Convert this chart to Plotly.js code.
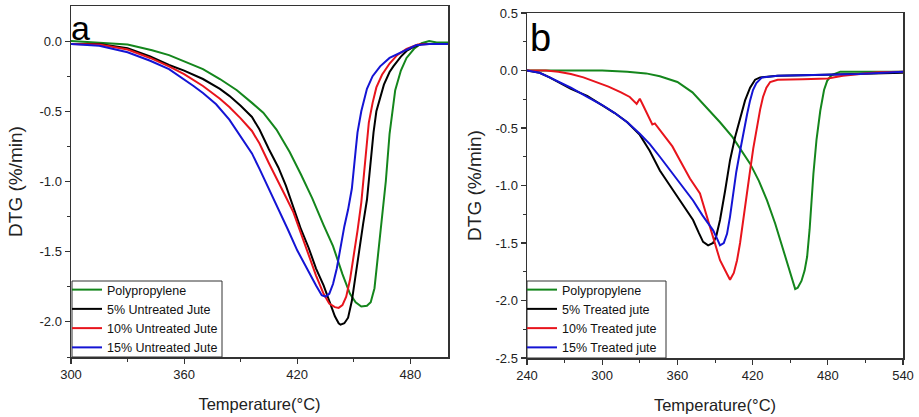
<!DOCTYPE html>
<html>
<head>
<meta charset="utf-8">
<script src="https://cdn.plot.ly/plotly-3.0.1.min.js"></script>
<style>html,body{margin:0;padding:0;background:#fff;}#chart{width:919px;height:417px;}</style>
</head>
<body>
<div id="chart"></div>
<script>
// ---------- Panel a (untreated jute) ----------
const aPP_x = [300,315,330,343,352,361,370,379,388,396,402,409,416,422,428,434,439,444,448,451,454,457,459,461,463,465,467,469,472,475,478,482,486,490,494,500];
const aPP_y = [0,-0.01,-0.025,-0.065,-0.1,-0.15,-0.2,-0.27,-0.35,-0.44,-0.51,-0.63,-0.79,-0.95,-1.12,-1.31,-1.46,-1.66,-1.8,-1.86,-1.89,-1.885,-1.86,-1.76,-1.52,-1.25,-1.0,-0.66,-0.35,-0.21,-0.12,-0.055,-0.015,0.0,-0.01,-0.01];

const a5_x = [300,315,330,342,352,360,370,379,384,390,396,400,405,410,414,418,422,426,430,434,437,440,442,443,445,447,449,451,453,455,457,459,460.5,462,464,466,469,471,475,478,482,486,492,500];
const a5_y = [-0.02,-0.02,-0.05,-0.11,-0.17,-0.21,-0.27,-0.34,-0.39,-0.46,-0.54,-0.63,-0.77,-0.9,-1.03,-1.18,-1.34,-1.47,-1.62,-1.74,-1.85,-1.96,-2.01,-2.02,-2.01,-1.97,-1.85,-1.66,-1.48,-1.3,-1.13,-0.85,-0.65,-0.5,-0.4,-0.31,-0.22,-0.18,-0.11,-0.07,-0.04,-0.02,-0.02,-0.02];

const a10_x = [300,315,330,342,352,360,370,379,384,390,396,400,405,410,414,418,422,426,430,434,437,440,442,444,446,448,450,452,454,456,458,460,462,465,469,473,478,484,490,500];
const a10_y = [-0.02,-0.025,-0.06,-0.12,-0.18,-0.235,-0.32,-0.41,-0.47,-0.55,-0.64,-0.73,-0.87,-1.0,-1.11,-1.22,-1.37,-1.52,-1.67,-1.8,-1.87,-1.895,-1.9,-1.88,-1.82,-1.7,-1.53,-1.35,-1.15,-0.85,-0.58,-0.44,-0.33,-0.24,-0.16,-0.1,-0.055,-0.025,-0.02,-0.02];

const a15_x = [300,315,330,342,352,360,365,370,377,384,390,396,400,405,410,415,420,425,430,433,435,437,439,441,443,445,447,449,451,452,454,457,460,464,469,475,483,490,500];
const a15_y = [-0.02,-0.033,-0.08,-0.14,-0.2,-0.27,-0.32,-0.37,-0.45,-0.56,-0.68,-0.8,-0.91,-1.05,-1.2,-1.34,-1.49,-1.62,-1.74,-1.81,-1.82,-1.8,-1.73,-1.62,-1.46,-1.32,-1.2,-1.05,-0.78,-0.65,-0.5,-0.34,-0.25,-0.18,-0.12,-0.08,-0.03,-0.02,-0.02];

// ---------- Panel b (treated jute) ----------
const bPP_x = [240,260,280,300,320,335,346,360,372,378,386,394,404,411,418,425,431.5,438,444,449,452,454,456,459,461.5,463.5,465.5,467,468.5,471,474,477,479.5,483,490,510,540];
const bPP_y = [0,0,-0.005,0,-0.01,-0.025,-0.05,-0.1,-0.19,-0.26,-0.35,-0.45,-0.58,-0.69,-0.81,-0.96,-1.13,-1.33,-1.54,-1.72,-1.84,-1.9,-1.89,-1.83,-1.74,-1.62,-1.38,-1.12,-0.9,-0.6,-0.35,-0.17,-0.09,-0.04,-0.01,-0.01,-0.01];

const b5_x = [240,250,258,266,275,288,300,310,320,330,338,346,354,362,368,372.5,377,380.5,384.5,388.5,391,394,398,402,406,410,414,418,422,426,440,470,505,540];
const b5_y = [0,-0.02,-0.06,-0.11,-0.16,-0.22,-0.3,-0.37,-0.45,-0.56,-0.7,-0.87,-1.0,-1.13,-1.22,-1.3,-1.41,-1.49,-1.52,-1.5,-1.44,-1.3,-1.05,-0.78,-0.58,-0.41,-0.26,-0.15,-0.08,-0.06,-0.045,-0.04,-0.03,-0.02];

const b10_x = [240,255,265,275,285,295,305,315,322,327.5,330,332.5,336,340,342,346,350,356,362,370,378,383,388.5,394,399.6,402,405,407.6,410,412.4,415,418,420.5,423.5,426,428.3,431,434,440,460,480,492,505,520,540];
const b10_y = [0,0,-0.01,-0.03,-0.06,-0.1,-0.14,-0.19,-0.23,-0.29,-0.245,-0.3,-0.38,-0.47,-0.46,-0.52,-0.57,-0.66,-0.78,-0.94,-1.07,-1.25,-1.45,-1.65,-1.77,-1.82,-1.76,-1.65,-1.5,-1.3,-1.08,-0.87,-0.68,-0.49,-0.34,-0.23,-0.15,-0.1,-0.08,-0.075,-0.07,-0.045,-0.03,-0.015,-0.01];

const b15_x = [240,250,258,266,275,288,300,310,320,330,338,346,355,365,372.5,380,388.5,392,394,397,399.6,402,404.4,407,410,413,415.6,418,420.3,423,427.5,440,470,505,540];
const b15_y = [0,-0.02,-0.06,-0.1,-0.15,-0.23,-0.3,-0.37,-0.45,-0.55,-0.64,-0.75,-0.88,-1.03,-1.13,-1.26,-1.39,-1.47,-1.52,-1.5,-1.42,-1.27,-1.07,-0.88,-0.7,-0.52,-0.38,-0.26,-0.17,-0.11,-0.06,-0.045,-0.04,-0.03,-0.01];

// ---------- Labels ----------
const namesA = ["Polypropylene","5% Untreated Jute","10% Untreated Jute","15% Untreated Jute"];
const namesB = ["Polypropylene","5% Treated jute","10% Treated jute","15% Treated jute"];
const colors = ["#14861c","#000000","#e8141c","#1414d4"];

const xTicksA = [300,360,420,480];
const xMinorA = [330,390,450];
const xTicksB = [240,300,360,420,480,540];
const xMinorB = [270,330,390,450,510];
const yTicksA = [0,-0.5,-1.0,-1.5,-2.0];
const yTextA = ["0.0","-0.5","-1.0","-1.5","-2.0"];
const yMinorA = [-0.25,-0.75,-1.25,-1.75,-2.25];
const yTicksB = [0.5,0,-0.5,-1.0,-1.5,-2.0,-2.5];
const yTextB = ["0.5","0.0","-0.5","-1.0","-1.5","-2.0","-2.5"];
const yMinorB = [0.25,-0.25,-0.75,-1.25,-1.75,-2.25];
const xTitle = "Temperature(°C)";
const yTitle = "DTG (%/min)";

const W = 919, H = 417;
const FONT = "Liberation Sans, Arial, sans-serif";

const dataA = [[aPP_x,aPP_y],[a5_x,a5_y],[a10_x,a10_y],[a15_x,a15_y]];
const dataB = [[bPP_x,bPP_y],[b5_x,b5_y],[b10_x,b10_y],[b15_x,b15_y]];

const traces = [];
dataA.forEach((d,i)=>traces.push({x:d[0],y:d[1],name:namesA[i],type:'scatter',mode:'lines',
  line:{color:colors[i],width:2},xaxis:'x',yaxis:'y',legend:'legend'}));
dataB.forEach((d,i)=>traces.push({x:d[0],y:d[1],name:namesB[i],type:'scatter',mode:'lines',
  line:{color:colors[i],width:2},xaxis:'x2',yaxis:'y2',legend:'legend2'}));

const axisCommon = {
  showline:true, mirror:true, linecolor:'#333', linewidth:1.5,
  showgrid:false, zeroline:false, ticks:'outside', ticklen:5, tickwidth:1.2, tickcolor:'#333',
  tickfont:{family:FONT,size:13,color:'#222'}
};
function minor(vals){return {tickmode:'array',tickvals:vals,ticks:'outside',ticklen:3,tickwidth:1,tickcolor:'#333',showgrid:false};}

function px(v){return v/W;}
function py(v){return 1-v/H;}

const legendCommon = {
  bgcolor:'rgba(0,0,0,0)', borderwidth:0,
  font:{family:FONT,size:12.5,color:'#111'}, xanchor:'left', yanchor:'top',
  tracegroupgap:0, itemwidth:30
};

// legend frames (white boxes behind the legends)
function box(x0,y0,x1,y1){return {type:'rect',xref:'paper',yref:'paper',x0:px(x0),x1:px(x1),y0:py(y1),y1:py(y0),
  fillcolor:'#ffffff',line:{color:'#333',width:1},layer:'above'};}

const layout = {
  width:W, height:H,
  margin:{l:0,r:0,t:0,b:0},
  paper_bgcolor:'#fff', plot_bgcolor:'#fff',
  font:{family:FONT},
  xaxis:Object.assign({}, axisCommon, {
    domain:[px(71),px(448)], range:[300,500], anchor:'y',
    tickmode:'array', tickvals:xTicksA, minor:minor(xMinorA),
    title:{text:xTitle,font:{family:FONT,size:16.5,color:'#222'},standoff:17}
  }),
  yaxis:Object.assign({}, axisCommon, {
    domain:[py(357),py(6)], range:[-2.25,0.25], anchor:'x',
    tickmode:'array', tickvals:yTicksA, ticktext:yTextA, minor:minor(yMinorA),
    title:{text:yTitle,font:{family:FONT,size:19,color:'#222'},standoff:12}
  }),
  xaxis2:Object.assign({}, axisCommon, {
    domain:[px(527),px(903)], range:[240,540], anchor:'y2',
    tickmode:'array', tickvals:xTicksB, minor:minor(xMinorB),
    title:{text:xTitle,font:{family:FONT,size:16.5,color:'#222'},standoff:17}
  }),
  yaxis2:Object.assign({}, axisCommon, {
    domain:[py(358),py(13)], range:[-2.5,0.5], anchor:'x2',
    tickmode:'array', tickvals:yTicksB, ticktext:yTextB, minor:minor(yMinorB),
    title:{text:yTitle,font:{family:FONT,size:19,color:'#222'},standoff:9}
  }),
  legend:Object.assign({}, legendCommon, {x:px(67), y:py(275)}),
  legend2:Object.assign({}, legendCommon, {x:px(522), y:py(275)}),
  shapes:[box(72,281,222,357), box(527,281,666,358)],
  annotations:[
    {text:'a', xref:'paper', yref:'paper', x:px(69), y:py(28), xanchor:'left', yanchor:'middle',
     showarrow:false, font:{family:FONT,size:34,color:'#000'}},
    {text:'b', xref:'paper', yref:'paper', x:px(528), y:py(38), xanchor:'left', yanchor:'middle',
     showarrow:false, font:{family:FONT,size:38,color:'#000'}}
  ],
  showlegend:true
};

Plotly.newPlot('chart', traces, layout, {displayModeBar:false, staticPlot:true});
</script>
</body>
</html>
